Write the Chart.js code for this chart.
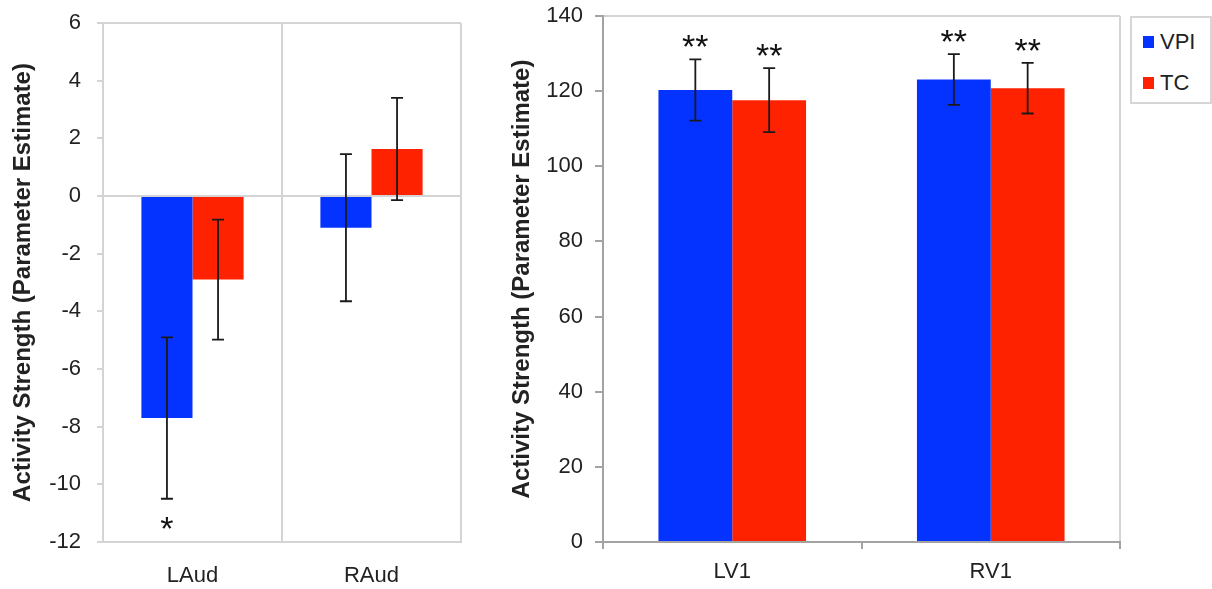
<!DOCTYPE html>
<html>
<head>
<meta charset="utf-8">
<script src="https://cdn.jsdelivr.net/npm/chart.js@4"></script>
<style>
  body { margin: 0; background: #fff; }
  #wrap { position: relative; width: 1212px; height: 589px; font-family: 'Liberation Sans', Arial, sans-serif; }
  #aud-chart { position: absolute; left: 0; top: 0; }
  #v1-chart { position: absolute; left: 480px; top: 0; }
  #legend { position: absolute; left: 1130px; top: 16px; width: 78px; height: 84px; border: 2px solid #d6d6d6; }
  #legend .item { position: absolute; left: 11px; font-size: 22px; color: #222; line-height: 22px; }
  #legend .sw { display: inline-block; width: 11px; height: 12px; margin-right: 6px; vertical-align: 1px; }
</style>
</head>
<body>
<div id="wrap">
  <canvas id="aud-chart" width="480" height="589"></canvas>
  <canvas id="v1-chart" width="650" height="589"></canvas>
  <div id="legend"></div>
</div>
<script>
// DATA
const audLabels = ["LAud", "RAud"];
const audVPI = [-7.7, -1.1];
const audVPIErr = [2.8, 2.55];
const audTC = [-2.9, 1.63];
const audTCErr = [2.08, 1.77];
const audVPIStars = ["*", ""];
const audTCStars = ["", ""];

const v1Labels = ["LV1", "RV1"];
const v1VPI = [120.3, 123.1];
const v1VPIErr = [8.15, 6.75];
const v1TC = [117.6, 120.8];
const v1TCErr = [8.5, 6.75];
const v1VPIStars = ["**", "**"];
const v1TCStars = ["**", "**"];

const audTicks = { min: -12, max: 6, step: 2 };
const v1Ticks = { min: 0, max: 140, step: 20 };

const seriesNames = ["VPI", "TC"];

// COLORS / FONTS
const BLUE = "#0433ff";
const RED = "#ff2200";
const LIGHT = "#d4d4d4";
const MID = "#a3a3a3";
const TEXT = "#222";
const FAMILY = "'Liberation Sans', Arial, sans-serif";
const NONE = "rgba(0,0,0,0)";

const TITLE = "Activity Strength (Parameter Estimate)";

// ERROR BARS + SIGNIFICANCE STARS
const errorBars = {
  id: "errorBars",
  afterDatasetsDraw(chart) {
    const ctx = chart.ctx;
    const yScale = chart.scales.y;
    chart.data.datasets.forEach((ds, i) => {
      const meta = chart.getDatasetMeta(i);
      meta.data.forEach((bar, j) => {
        const v = ds.data[j];
        const e = ds.errors[j];
        const hi = yScale.getPixelForValue(v + e);
        const lo = yScale.getPixelForValue(v - e);
        const x = bar.x;
        ctx.save();
        ctx.strokeStyle = "#1a1a1a";
        ctx.lineWidth = 1.8;
        ctx.beginPath();
        ctx.moveTo(x, hi); ctx.lineTo(x, lo);
        ctx.moveTo(x - 6, hi); ctx.lineTo(x + 6, hi);
        ctx.moveTo(x - 6, lo); ctx.lineTo(x + 6, lo);
        ctx.stroke();

        const star = ds.stars[j];
        if (star) {
          ctx.fillStyle = "#111";
          ctx.font = "34px " + FAMILY;
          ctx.textAlign = "center";
          ctx.textBaseline = "alphabetic";
          if (v >= 0) {
            ctx.fillText(star, x, hi - 1);
          } else {
            ctx.fillText(star, x, lo + 41);
          }
        }
        ctx.restore();
      });
    });
  }
};

function makeDatasets(vpi, vpiErr, vpiStars, tc, tcErr, tcStars) {
  return [
    { label: seriesNames[0], data: vpi, errors: vpiErr, stars: vpiStars, backgroundColor: BLUE, borderWidth: 0, categoryPercentage: 0.571, barPercentage: 1.0 },
    { label: seriesNames[1], data: tc, errors: tcErr, stars: tcStars, backgroundColor: RED, borderWidth: 0, categoryPercentage: 0.571, barPercentage: 1.0 }
  ];
}

const tickFont = { family: FAMILY, size: 22 };
const titleFont = { family: FAMILY, size: 24, weight: "bold" };

// LEFT CHART (auditory)
new Chart(document.getElementById("aud-chart"), {
  type: "bar",
  data: { labels: audLabels, datasets: makeDatasets(audVPI, audVPIErr, audVPIStars, audTC, audTCErr, audTCStars) },
  options: {
    responsive: false,
    animation: false,
    layout: { padding: { top: 23, right: 19, bottom: 0, left: 0 } },
    plugins: { legend: { display: false }, tooltip: { enabled: false } },
    scales: {
      x: {
        grid: { offset: true, color: LIGHT, lineWidth: 2, drawTicks: false },
        border: { color: LIGHT, width: 2 },
        ticks: { font: tickFont, color: TEXT, padding: 21 },
        afterFit: s => { s.height = 47; }
      },
      y: {
        min: audTicks.min,
        max: audTicks.max,
        ticks: { stepSize: audTicks.step, font: tickFont, color: TEXT, padding: 16 },
        grid: {
          color: c => (c.tick && [audTicks.max, 0, audTicks.min].includes(c.tick.value)) ? LIGHT : NONE,
          tickColor: LIGHT,
          tickLength: 6,
          lineWidth: 2
        },
        border: { color: LIGHT, width: 2 },
        title: { display: true, text: TITLE, font: titleFont, color: TEXT, padding: { top: 9, bottom: 0 } },
        afterFit: s => { s.width = 103; s.paddingTop = 0; s.paddingBottom = 0; }
      }
    }
  },
  plugins: [errorBars]
});

// RIGHT CHART (V1)
new Chart(document.getElementById("v1-chart"), {
  type: "bar",
  data: { labels: v1Labels, datasets: makeDatasets(v1VPI, v1VPIErr, v1VPIStars, v1TC, v1TCErr, v1TCStars) },
  options: {
    responsive: false,
    animation: false,
    layout: { padding: { top: 16, right: 10, bottom: 0, left: 0 } },
    plugins: { legend: { display: false }, tooltip: { enabled: false } },
    scales: {
      x: {
        grid: {
          offset: true,
          color: c => c.type === "tick" ? NONE : LIGHT,
          tickColor: MID,
          tickLength: 7,
          lineWidth: 2
        },
        border: { color: MID, width: 2 },
        ticks: { font: tickFont, color: TEXT, padding: 10 },
        afterFit: s => { s.height = 47; }
      },
      y: {
        min: v1Ticks.min,
        max: v1Ticks.max,
        ticks: { stepSize: v1Ticks.step, font: tickFont, color: TEXT, padding: 12 },
        grid: {
          color: c => (c.tick && c.tick.value === v1Ticks.max) ? LIGHT : NONE,
          tickColor: MID,
          tickLength: 8,
          lineWidth: 2
        },
        border: { color: MID, width: 2 },
        title: { display: true, text: TITLE, font: titleFont, color: TEXT, padding: { top: 28, bottom: 0 } },
        afterFit: s => { s.width = 123; s.paddingTop = 0; s.paddingBottom = 0; }
      }
    }
  },
  plugins: [errorBars]
});

// LEGEND
const legend = document.getElementById("legend");
[BLUE, RED].forEach((col, i) => {
  const item = document.createElement("div");
  item.className = "item";
  item.style.top = (i === 0 ? 13 : 54) + "px";
  item.innerHTML = `<span class="sw" style="background:${col}"></span>${seriesNames[i]}`;
  legend.appendChild(item);
});
</script>
</body>
</html>
